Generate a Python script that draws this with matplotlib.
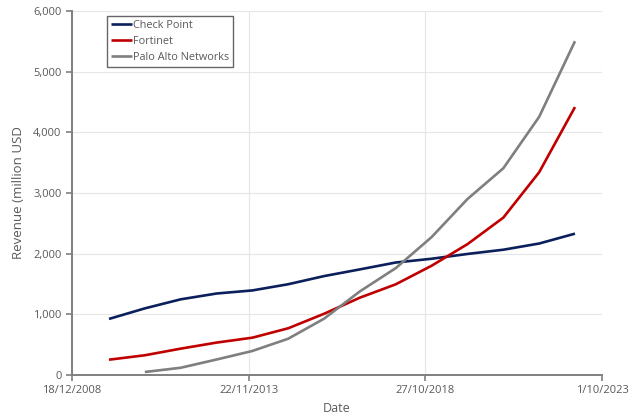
import matplotlib
matplotlib.use("Agg")
import matplotlib.pyplot as plt
import matplotlib.dates as mdates
from datetime import date

years_cp = list(range(2009, 2023))
check_point = [924, 1098, 1247, 1343, 1394, 1496, 1630, 1741, 1854, 1916, 1995, 2065, 2167, 2330]
years_ft = list(range(2009, 2023))
fortinet = [252, 325, 434, 534, 615, 770, 1009, 1275, 1495, 1801, 2156, 2594, 3342, 4417]
years_pa = list(range(2010, 2023))
palo_alto = [49, 119, 255, 396, 598, 928, 1379, 1762, 2273, 2900, 3408, 4256, 5502]

tick_dates = [date(2008, 12, 18), date(2013, 11, 22), date(2018, 10, 27), date(2023, 10, 1)]
tick_labels = ["18/12/2008", "22/11/2013", "27/10/2018", "1/10/2023"]
y_ticks = [0, 1000, 2000, 3000, 4000, 5000, 6000]

plt.rcParams['font.family'] = ['Open Sans', 'DejaVu Sans']
txt = '#595959'

fig = plt.figure(figsize=(6.4, 4.18), dpi=100)
ax = fig.add_axes([0.1125, 0.1029, 0.8281, 0.8708])

def d(ys):
    return [date(y, 12, 30) for y in ys]

ax.plot(d(years_cp), check_point, color='#0b1f5c', lw=1.9, label='Check Point', solid_capstyle='butt')
ax.plot(d(years_ft), fortinet, color='#c00000', lw=1.9, label='Fortinet', solid_capstyle='butt')
ax.plot(d(years_pa), palo_alto, color='#7f7f7f', lw=1.9, label='Palo Alto Networks', solid_capstyle='butt')

ax.set_xlim(mdates.date2num(tick_dates[0]), mdates.date2num(tick_dates[-1]))
ax.set_ylim(0, 6000)
ax.set_xticks([mdates.date2num(t) for t in tick_dates])
ax.set_xticklabels(tick_labels)
ax.set_yticks(y_ticks)
ax.set_yticklabels([f"{v:,}" for v in y_ticks])

ax.grid(True, color='#e6e6e6', lw=0.8)
ax.set_axisbelow(True)
for s in ['top', 'right']:
    ax.spines[s].set_visible(False)
for s in ['left', 'bottom']:
    ax.spines[s].set_color('#7f7f7f')
    ax.spines[s].set_linewidth(1.4)
ax.tick_params(axis='both', colors='#7f7f7f', labelcolor=txt, labelsize=8, length=4, width=1.2, direction='out')

ax.set_xlabel('Date', color=txt, fontsize=9, labelpad=4)
ax.set_ylabel('Revenue (million USD', color=txt, fontsize=9.5, labelpad=6)

leg = ax.legend(loc='upper left', bbox_to_anchor=(0.066, 0.985), fontsize=7.8, frameon=True,
                fancybox=False, handlelength=2.0, handletextpad=0.05, borderpad=0.35,
                labelspacing=0.45, borderaxespad=0)
leg.get_frame().set_edgecolor('#404040')
leg.get_frame().set_linewidth(1.0)
for t in leg.get_texts():
    t.set_color(txt)

fig.savefig('out.png', dpi=100)
